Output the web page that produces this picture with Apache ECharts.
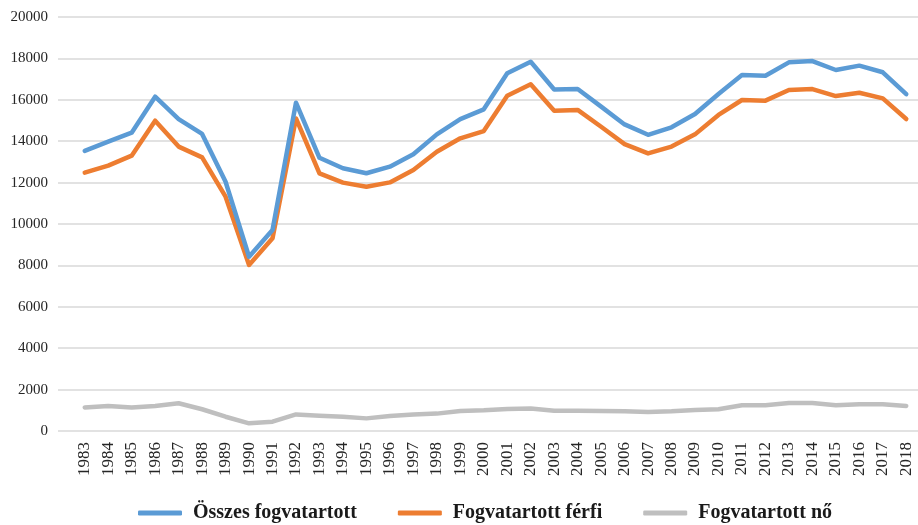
<!DOCTYPE html>
<html><head><meta charset="utf-8">
<script src="https://cdn.jsdelivr.net/npm/echarts@6/dist/echarts.min.js"></script>
<style>html,body{margin:0;padding:0;background:#fff}#c{width:918px;height:525px}</style>
</head><body><div id="c"></div>
<script>
const years = ['1983','1984','1985','1986','1987','1988','1989','1990','1991','1992','1993','1994','1995','1996','1997','1998','1999','2000','2001','2002','2003','2004','2005','2006','2007','2008','2009','2010','2011','2012','2013','2014','2015','2016','2017','2018'];
const osszes = [13530,13980,14410,16150,15070,14350,12040,8420,9710,15860,13200,12690,12450,12770,13370,14330,15070,15540,17280,17840,16500,16520,15670,14810,14310,14670,15310,16280,17200,17160,17810,17870,17440,17650,17330,16270];
const ferfi = [12480,12820,13300,14990,13740,13220,11320,8020,9310,15100,12450,12000,11800,12010,12610,13490,14140,14490,16200,16750,15470,15510,14700,13860,13410,13740,14330,15270,15990,15960,16470,16520,16180,16340,16070,15070];
const no = [1140,1210,1130,1210,1340,1050,690,370,450,800,740,690,610,720,800,840,970,1000,1060,1090,980,980,970,950,920,950,1010,1050,1240,1240,1350,1350,1240,1290,1290,1210];
const names = ['Összes fogvatartott','Fogvatartott férfi','Fogvatartott nő'];
const colors = ['#5B9BD5','#ED7D31','#BFBFBF'];
const yMin = 0, yMax = 20000, yInterval = 2000;

const chart = echarts.init(document.getElementById('c'), null, {renderer:'canvas'});
const font = '"Liberation Serif", "DejaVu Serif", serif';
const mk = (name, data, i) => ({
  name, type:'line', data, xAxisIndex:1, yAxisIndex:1, symbol:'none', smooth:false,
  lineStyle:{color:colors[i], width:4.5, cap:'round', join:'round'}, itemStyle:{color:colors[i]}, z:3+(2-i)
});
chart.setOption({
  animation:false,
  backgroundColor:'#fff',
  grid:[
    {left:58, right:0, top:17, bottom:94},
    {left:73, right:0, top:17, bottom:94}
  ],
  xAxis:[
    {gridIndex:0, type:'category', data:years, show:false},
    {gridIndex:1, type:'category', data:years, boundaryGap:true,
     axisLine:{show:false}, axisTick:{show:false},
     axisLabel:{rotate:90, fontFamily:font, fontSize:17, color:'#262626', margin:11, interval:0}}
  ],
  yAxis:[
    {gridIndex:0, type:'value', min:yMin, max:yMax, interval:yInterval,
     axisLine:{show:false}, axisTick:{show:false},
     axisLabel:{fontFamily:font, fontSize:15, color:'#262626', margin:10, formatter:v=>String(v)},
     splitLine:{lineStyle:{color:'#D9D9D9', width:1.5}}},
    {gridIndex:1, type:'value', min:yMin, max:yMax, interval:yInterval, show:false, splitLine:{show:false}}
  ],
  legend:{
    left:138, top:503, padding:0, itemWidth:44, itemHeight:5, itemGap:41,
    icon:'roundRect',
    textStyle:{fontFamily:font, fontSize:20, fontWeight:'bold', color:'#1a1a1a', padding:[0,0,0,6]},
    data:names
  },
  series:[mk(names[0], osszes, 0), mk(names[1], ferfi, 1), mk(names[2], no, 2)]
});
</script></body></html>
